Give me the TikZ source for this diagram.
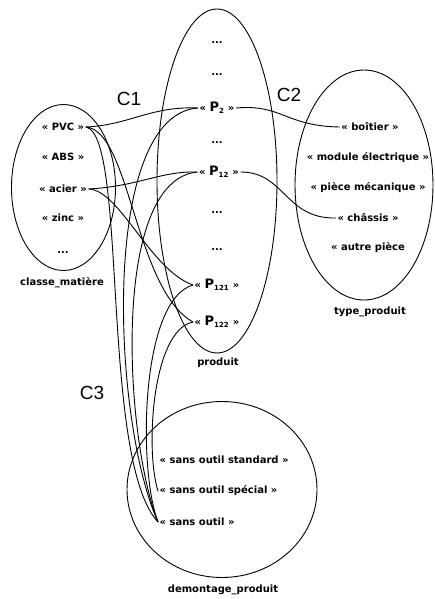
\documentclass[tikz,border=0pt]{standalone}
\usepackage{fontspec}
\setmainfont{DejaVu Sans}
\newfontfamily\clabelfont{Liberation Sans}
\usepackage{tikz}
\usetikzlibrary{positioning}

\tikzset{
  item/.style={font=\fontsize{10}{11}\selectfont\bfseries, inner sep=1.5pt},
  pitem/.style={item},
  setname/.style={font=\fontsize{10}{11}\selectfont\bfseries, inner sep=1pt},
  clabel/.style={font=\clabelfont\fontsize{19}{20}\selectfont, inner sep=0pt},
  setline/.style={line width=0.9pt},
  link/.style={line width=0.9pt}
}
\newcommand{\pname}[1]{{\fontsize{13}{13}\selectfont P}\textsubscript{#1}}

\begin{document}
\begin{tikzpicture}[x=1pt,y=-1pt]
\useasboundingbox (0,0) rectangle (434,599);

% the four sets
\draw[setline] (63.5,187.5) ellipse [x radius=52pt, y radius=83pt];
\draw[setline] (217,181) ellipse [x radius=60pt, y radius=172pt];
\draw[setline] (364,185) ellipse [x radius=69pt, y radius=115pt];
\draw[setline] (222,489.5) ellipse [x radius=95pt, y radius=88pt];

% classe_matiere
\node[item] (pvc) at (63,127) {« PVC »};
\node[item] (abs) at (63,157) {« ABS »};
\node[item] (acier) at (63,189) {« acier »};
\node[item] (zinc) at (63,218) {« zinc »};
\node[item] (mdots) at (63,253) {...};
\node[setname] (classe) at (62,283) {classe\_matière};

% produit
\node[item] (pdotsa) at (217,43) {...};
\node[item] (pdotsb) at (217,75) {...};
\node[pitem] (p2) at (217,108) {« \pname{2} »};
\node[item] (pdotsc) at (217,143) {...};
\node[pitem] (p12) at (219,172) {« \pname{12} »};
\node[item] (pdotsd) at (217,213) {...};
\node[item] (pdotse) at (217,250) {...};
\node[pitem] (p121) at (217,285) {« \pname{121} »};
\node[pitem] (p122) at (217,322) {« \pname{122} »};
\node[setname] (produit) at (218,363) {produit};

% type_produit
\node[item] (boitier) at (370,127) {« boîtier »};
\node[item] (module) at (368,158) {« module électrique »};
\node[item] (piece) at (368,188) {« pièce mécanique »};
\node[item] (chassis) at (368,218) {« châssis »};
\node[item] (autre) at (368,248) {« autre pièce};
\node[setname] (type) at (370,312) {type\_produit};

% demontage_produit
\node[item, anchor=west] (standard) at (158,460) {« sans outil standard »};
\node[item, anchor=west] (special) at (158,491) {« sans outil spécial »};
\node[item, anchor=west] (sansoutil) at (158,522) {« sans outil »};
\node[setname] (demontage) at (223,590) {demontage\_produit};

% relation names
\node[clabel] (c1) at (129,99) {C1};
\node[clabel] (c2) at (289,95) {C2};
\node[clabel] (c3) at (92,393) {C3};

% C1
\draw[link] (pvc.east) .. controls (130,125) and (150,106) .. (p2.west);
\draw[link] (pvc.east) .. controls (130,130) and (135,290) .. (p122.west);
\draw[link] (acier.east) .. controls (140,186) and (160,171) .. (p12.west);
\draw[link] (acier.east) .. controls (120,190) and (150,270) .. (p121.west);

% C2
\draw[link] (p2.east) .. controls (282,104) and (285,126) .. (boitier.west);
\draw[link] (p12.east) .. controls (285,172) and (285,219) .. (chassis.west);

% C3
\draw[link] (pvc.east) .. controls (128,135) and (100,460) .. (sansoutil.west);
\draw[link] (p2.west) .. controls (100,115) and (112,420) .. (sansoutil.west);
\draw[link] (p12.west) .. controls (110,180) and (125,440) .. (sansoutil.west);
\draw[link] (p121.west) .. controls (140,300) and (138,470) .. (sansoutil.west);
\draw[link] (p122.west) .. controls (152,330) and (145,450) .. (special.west);
\end{tikzpicture}
\end{document}
